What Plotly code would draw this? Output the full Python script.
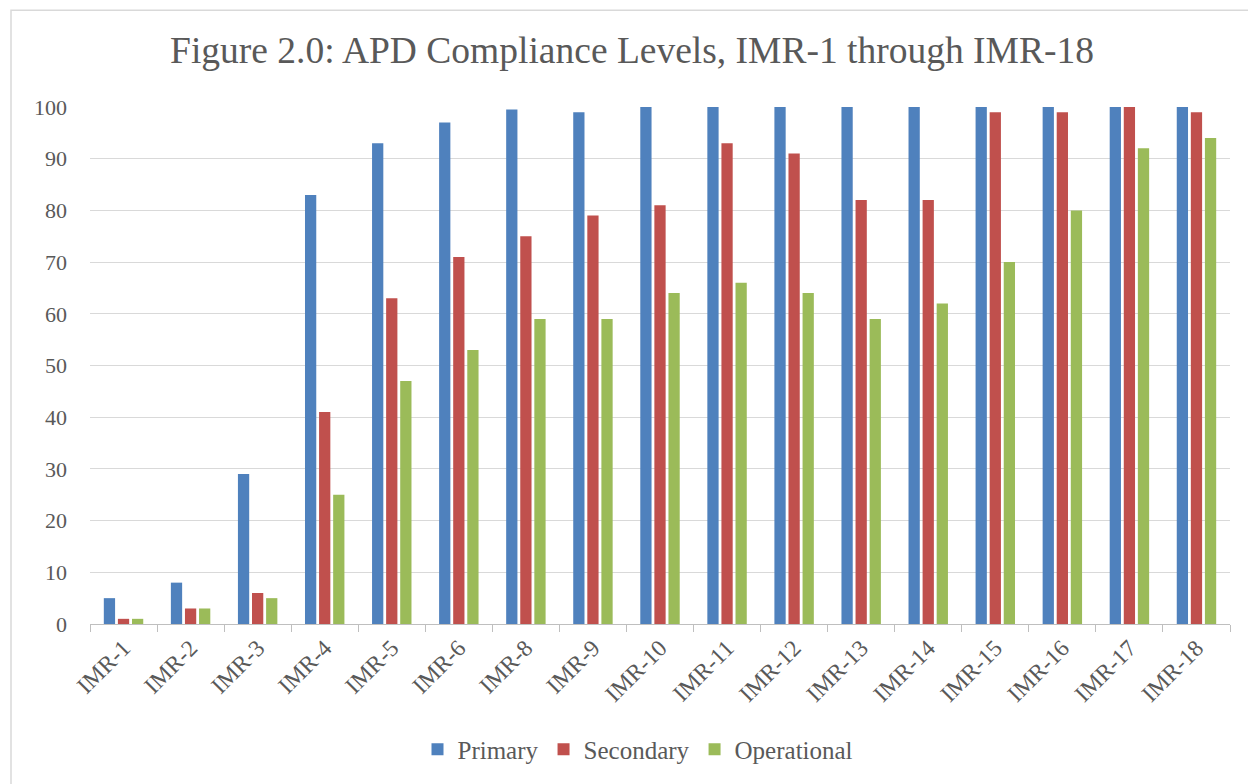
import plotly.graph_objects as go

categories = ["IMR-1", "IMR-2", "IMR-3", "IMR-4", "IMR-5", "IMR-6", "IMR-8", "IMR-9",
              "IMR-10", "IMR-11", "IMR-12", "IMR-13", "IMR-14", "IMR-15", "IMR-16",
              "IMR-17", "IMR-18"]
primary = [5, 8, 29, 83, 93, 97, 99.5, 99, 100, 100, 100, 100, 100, 100, 100, 100, 100]
secondary = [1, 3, 6, 41, 63, 71, 75, 79, 81, 93, 91, 82, 82, 99, 99, 100, 99]
operational = [1, 3, 5, 25, 47, 53, 59, 59, 64, 66, 64, 59, 62, 70, 80, 92, 94]
y_ticks = [0, 10, 20, 30, 40, 50, 60, 70, 80, 90, 100]

FONT = "Liberation Serif"
GRAY = "#595959"

W, H = 1248, 776
L, R, T, B = 82, 26, 99, 158
PW, PH = W - L - R, H - T - B

fig = go.Figure()
for name, vals, col in [("Primary", primary, "#4F81BD"),
                        ("Secondary", secondary, "#C0504D"),
                        ("Operational", operational, "#9BBB59")]:
    fig.add_trace(go.Bar(x=categories, y=vals, name=name, marker_color=col,
                         marker_line_width=0))

fig.update_layout(
    width=W, height=H,
    paper_bgcolor="white", plot_bgcolor="white",
    margin=dict(l=L, r=R, t=T, b=B),
    barmode="group", bargap=0.37, bargroupgap=0.2,
    title=dict(text="Figure 2.0: APD Compliance Levels, IMR-1 through IMR-18",
               x=0.5, xanchor="center", y=1 - 42 / H, yanchor="middle",
               font=dict(family=FONT, size=37.5, color=GRAY)),
    font=dict(family=FONT, color=GRAY),
    legend=dict(orientation="h", x=0.5 - 22 / PW, xanchor="center", y=-126 / PH,
                yanchor="middle",
                font=dict(family=FONT, size=25, color=GRAY),
                itemwidth=30, traceorder="normal"),
    xaxis=dict(type="category", showgrid=False, showline=True, linecolor="#BFBFBF",
               linewidth=1, ticks="outside", tickson="boundaries", ticklen=7,
               tickcolor="#BFBFBF", tickangle=-45,
               tickfont=dict(family=FONT, size=23.5, color=GRAY)),
    yaxis=dict(range=[0, 100], tickvals=y_ticks, showgrid=True, gridcolor="#D9D9D9",
               gridwidth=1, zeroline=False, showline=False,
               tickfont=dict(family=FONT, size=22, color=GRAY), ticklabelstandoff=22),
    shapes=[dict(type="rect", xref="paper", yref="paper",
                 x0=(3 - L) / PW, x1=1 + (R + 40) / PW,
                 y0=-(B + 40) / PH, y1=1 + (T - 2) / PH,
                 line=dict(color="#D9D9D9", width=1.5), fillcolor="rgba(0,0,0,0)",
                 layer="below")],
)

fig.write_html("out.html")
